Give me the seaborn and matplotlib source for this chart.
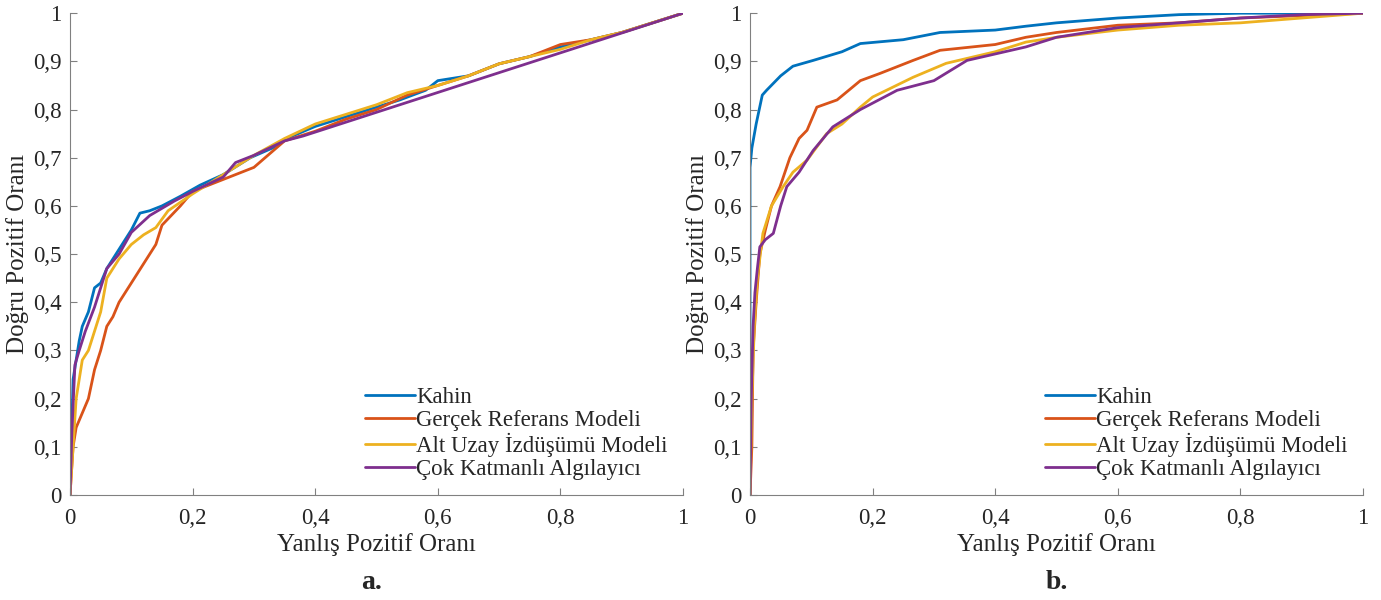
import matplotlib
matplotlib.use("Agg")
import matplotlib.pyplot as plt
import numpy as np
import pandas as pd
import seaborn as sns

SERIES = ["Kahin", "Gerçek Referans Modeli", "Alt Uzay İzdüşümü Modeli", "Çok Katmanlı Algılayıcı"]
COLORS = ["#0072BD", "#D95319", "#EDB120", "#7E2F8E"]

# panel a: (false positive rate, true positive rate)
a_kahin_fpr = [0, 0.002, 0.005, 0.01, 0.015, 0.02, 0.03, 0.04, 0.05, 0.06, 0.08, 0.1, 0.114, 0.13, 0.15, 0.18, 0.212, 0.25, 0.294, 0.33, 0.359, 0.4, 0.45, 0.5, 0.538, 0.58, 0.6, 0.65, 0.7, 0.75, 0.8, 0.85, 0.9, 0.95, 1]
a_kahin_tpr = [0, 0.1, 0.24, 0.28, 0.32, 0.35, 0.38, 0.43, 0.44, 0.47, 0.51, 0.55, 0.585, 0.59, 0.6, 0.62, 0.643, 0.665, 0.70, 0.72, 0.743, 0.765, 0.785, 0.805, 0.82, 0.84, 0.86, 0.87, 0.895, 0.91, 0.93, 0.945, 0.96, 0.98, 1]
a_ref_fpr = [0, 0.005, 0.01, 0.02, 0.03, 0.04, 0.05, 0.06, 0.07, 0.08, 0.1, 0.12, 0.14, 0.15, 0.18, 0.2, 0.25, 0.3, 0.35, 0.4, 0.45, 0.5, 0.55, 0.6, 0.65, 0.7, 0.75, 0.8, 0.85, 0.9, 0.95, 1]
a_ref_tpr = [0, 0.1, 0.14, 0.17, 0.2, 0.26, 0.3, 0.35, 0.37, 0.4, 0.44, 0.48, 0.52, 0.56, 0.6, 0.63, 0.655, 0.68, 0.735, 0.755, 0.78, 0.8, 0.83, 0.85, 0.87, 0.895, 0.91, 0.935, 0.945, 0.96, 0.98, 1]
a_sub_fpr = [0, 0.005, 0.01, 0.02, 0.03, 0.05, 0.06, 0.08, 0.1, 0.12, 0.14, 0.16, 0.2, 0.25, 0.3, 0.35, 0.4, 0.45, 0.5, 0.55, 0.6, 0.65, 0.7, 0.75, 0.8, 0.85, 0.9, 0.95, 1]
a_sub_tpr = [0, 0.1, 0.2, 0.28, 0.3, 0.38, 0.45, 0.49, 0.52, 0.54, 0.555, 0.59, 0.625, 0.665, 0.705, 0.74, 0.77, 0.79, 0.81, 0.835, 0.85, 0.87, 0.895, 0.91, 0.925, 0.945, 0.96, 0.98, 1]
a_mlp_fpr = [0, 0.003, 0.008, 0.015, 0.025, 0.04, 0.05, 0.06, 0.08, 0.1, 0.13, 0.17, 0.2, 0.25, 0.27, 0.3, 0.35, 0.38, 1]
a_mlp_tpr = [0, 0.13, 0.27, 0.3, 0.34, 0.39, 0.43, 0.47, 0.5, 0.545, 0.58, 0.61, 0.63, 0.66, 0.69, 0.705, 0.735, 0.745, 1]

# panel b
b_kahin_fpr = [0, 0, 0.003, 0.01, 0.015, 0.02, 0.027, 0.05, 0.07, 0.103, 0.15, 0.18, 0.25, 0.31, 0.4, 0.45, 0.5, 0.6, 0.7, 0.8, 1]
b_kahin_tpr = [0, 0.68, 0.72, 0.77, 0.8, 0.83, 0.84, 0.87, 0.89, 0.902, 0.92, 0.937, 0.945, 0.96, 0.965, 0.973, 0.98, 0.99, 0.997, 1, 1]
b_ref_fpr = [0, 0.003, 0.005, 0.01, 0.016, 0.025, 0.035, 0.049, 0.065, 0.08, 0.093, 0.109, 0.142, 0.18, 0.212, 0.266, 0.31, 0.4, 0.45, 0.5, 0.6, 0.7, 0.8, 0.9, 1]
b_ref_tpr = [0, 0.1, 0.3, 0.4, 0.5, 0.55, 0.6, 0.64, 0.70, 0.74, 0.757, 0.805, 0.82, 0.86, 0.875, 0.902, 0.923, 0.935, 0.95, 0.96, 0.975, 0.98, 0.99, 0.995, 1]
b_sub_fpr = [0, 0.003, 0.007, 0.012, 0.021, 0.035, 0.054, 0.07, 0.093, 0.125, 0.15, 0.18, 0.2, 0.266, 0.32, 0.4, 0.45, 0.5, 0.6, 0.7, 0.8, 0.9, 1]
b_sub_tpr = [0, 0.2, 0.35, 0.45, 0.543, 0.6, 0.64, 0.67, 0.695, 0.75, 0.77, 0.805, 0.826, 0.867, 0.896, 0.92, 0.94, 0.95, 0.965, 0.975, 0.98, 0.99, 1]
b_mlp_fpr = [0, 0.002, 0.005, 0.008, 0.012, 0.016, 0.025, 0.038, 0.05, 0.06, 0.08, 0.103, 0.135, 0.18, 0.24, 0.3, 0.354, 0.45, 0.5, 0.6, 0.7, 0.8, 0.9, 1]
b_mlp_tpr = [0, 0.2, 0.35, 0.42, 0.47, 0.515, 0.53, 0.543, 0.6, 0.64, 0.67, 0.715, 0.764, 0.80, 0.84, 0.86, 0.902, 0.93, 0.95, 0.97, 0.98, 0.99, 0.997, 1]

X_TICKS = [0, 0.2, 0.4, 0.6, 0.8, 1]
Y_TICKS = [0, 0.1, 0.2, 0.3, 0.4, 0.5, 0.6, 0.7, 0.8, 0.9, 1]
PANEL_TAGS = ["a.", "b."]


def to_frame(curves):
    rows = []
    for name, (fpr, tpr) in zip(SERIES, curves):
        for order, (x, y) in enumerate(zip(fpr, tpr)):
            rows.append({"model": name, "order": order, "fpr": x, "tpr": y})
    return pd.DataFrame(rows)


def comma(v):
    return f"{v:g}".replace(".", ",")


def draw_panel(ax, frame):
    sns.lineplot(data=frame, x="fpr", y="tpr", hue="model", hue_order=SERIES, palette=COLORS,
                 units="model", estimator=None, sort=False, linewidth=2, ax=ax)
    ax.set_xlim(0, 1)
    ax.set_ylim(0, 1)
    ax.set_xticks(X_TICKS)
    ax.set_xticklabels([comma(v) for v in X_TICKS])
    ax.set_yticks(Y_TICKS)
    ax.set_yticklabels([comma(v) for v in Y_TICKS])
    ax.set_xlabel("Yanlış Pozitif Oranı", fontsize=18, labelpad=3)
    ax.set_ylabel("Doğru Pozitif Oranı", fontsize=18, labelpad=3)
    ax.tick_params(direction="in", length=5, width=0.8, color="#808080", labelsize=16.5)
    ax.tick_params(axis="x", pad=9)
    ax.tick_params(axis="y", pad=6)
    for side in ("top", "right"):
        ax.spines[side].set_visible(False)
    for side in ("left", "bottom"):
        ax.spines[side].set_color("#808080")
        ax.spines[side].set_linewidth(0.8)
    ax.legend(loc="lower right", bbox_to_anchor=(0.99, 0.012), frameon=False, fontsize=16.5,
              handlelength=2.2, handletextpad=0.05, labelspacing=0.08, borderaxespad=0)


sns.set_style("ticks")
plt.rcParams["font.family"] = ["Liberation Serif", "DejaVu Serif"]

fig = plt.figure(figsize=(13.81, 6), dpi=100)
ax_a = fig.add_axes([0.0507, 0.175, 0.4439, 0.803])
ax_b = fig.add_axes([0.5431, 0.175, 0.4439, 0.803])

draw_panel(ax_a, to_frame([(a_kahin_fpr, a_kahin_tpr), (a_ref_fpr, a_ref_tpr),
                           (a_sub_fpr, a_sub_tpr), (a_mlp_fpr, a_mlp_tpr)]))
draw_panel(ax_b, to_frame([(b_kahin_fpr, b_kahin_tpr), (b_ref_fpr, b_ref_tpr),
                           (b_sub_fpr, b_sub_tpr), (b_mlp_fpr, b_mlp_tpr)]))

fig.text(0.269, 0.018, PANEL_TAGS[0], fontsize=20, fontweight="bold", ha="center")
fig.text(0.765, 0.018, PANEL_TAGS[1], fontsize=20, fontweight="bold", ha="center")

fig.savefig("out.png", dpi=100)
